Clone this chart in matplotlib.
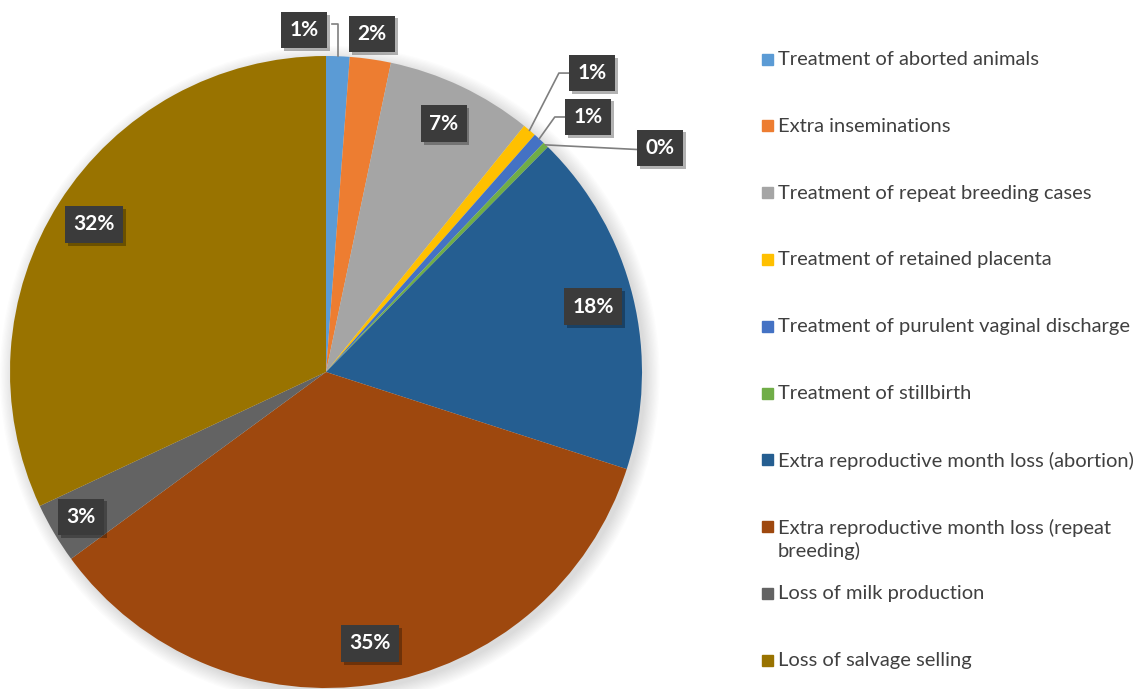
import numpy as np
from matplotlib import pyplot as plt
from matplotlib import patches
from matplotlib import patheffects as pe

# data
categories = [
    'Treatment of aborted animals',
    'Extra inseminations',
    'Treatment of repeat breeding cases',
    'Treatment of retained placenta',
    'Treatment of purulent vaginal discharge',
    'Treatment of stillbirth',
    'Extra reproductive month loss (abortion)',
    'Extra reproductive month loss (repeat\nbreeding)',
    'Loss of milk production',
    'Loss of salvage selling',
]
values = [1.2, 2.1, 7.5, 0.7, 0.6, 0.3, 17.6, 35.0, 3.1, 32.0]
labels = ['1%', '2%', '7%', '1%', '1%', '0%', '18%', '35%', '3%', '32%']
colors = ['#5B9BD5', '#ED7D31', '#A5A5A5', '#FFC000', '#4472C4',
          '#70AD47', '#255E91', '#9E480E', '#636363', '#997300']

# small slices get their label outside, with a leader line
outside_pos = {0: (-0.07, 1.082), 1: (0.146, 1.070), 3: (0.842, 0.946),
               4: (0.829, 0.807), 5: (1.057, 0.709)}

plt.rcParams['font.family'] = ['Lato', 'DejaVu Sans']

W, H = 1143, 689
fig = plt.figure(figsize=(W / 100, H / 100), dpi=100)

# pie axes: centre at (326, 372) px, radius 316 px
R = 316
cx, cy = 326, H - 372
half = 1.2 * R
ax = fig.add_axes([(cx - half) / W, (cy - half) / H, 2 * half / W, 2 * half / H])

# soft shadow behind the pie
for k in range(12):
    ax.add_patch(patches.Circle((0.012, -0.012), 1.0 + 0.004 * k,
                                color='black', alpha=0.012, lw=0, zorder=0))

wedges, _ = ax.pie(values, colors=colors, startangle=90, counterclock=False,
                   radius=1.0, wedgeprops=dict(linewidth=0), center=(0, 0))
for w in wedges:
    w.set_zorder(2)
ax.set_xlim(-1.2, 1.2)
ax.set_ylim(-1.2, 1.2)
ax.set_aspect('equal')
ax.axis('off')

box = dict(boxstyle='square,pad=0.4', fc='#3b3b3b', ec='none')
shadow = [pe.SimplePatchShadow(offset=(2, -2), shadow_rgbFace='black', alpha=0.3),
          pe.Normal()]

for i, w in enumerate(wedges):
    mid = np.deg2rad((w.theta1 + w.theta2) / 2)
    if i in outside_pos:
        lx, ly = outside_pos[i]
    else:
        r = 0.9 if values[i] < 5 else 0.87
        lx, ly = r * np.cos(mid), r * np.sin(mid)
    t = ax.text(lx, ly, labels[i], ha='center', va='center', color='white',
                fontsize=15, fontweight='bold', bbox=box, zorder=5)
    t.get_bbox_patch().set_path_effects(shadow)
    if i in outside_pos:
        ax_, ay_ = np.cos(mid), np.sin(mid)
        if i == 0:
            xs = [lx + 0.09, ax_, ax_]
            ys = [ly + 0.02, ly + 0.02, ay_]
        elif i == 5:
            xs = [ax_, lx - 0.07]
            ys = [ay_, ly - 0.005]
        elif i == 1:
            continue
        else:
            xs = [ax_, lx - 0.105, lx - 0.07]
            ys = [ay_, ly, ly]
        ax.plot(xs, ys, color='#7f7f7f', lw=1.2, zorder=3)

# legend, drawn by hand to match spacing
y0 = 59
step = 66.8
for i, (name, c) in enumerate(zip(categories, colors)):
    y = H - (y0 + i * step)
    fig.patches.append(patches.Rectangle((762 / W, (y - 5.5) / H), 11 / W, 11 / H,
                                         transform=fig.transFigure, color=c,
                                         figure=fig))
    fig.text(778 / W, (y + 8) / H, name, ha='left', va='top', fontsize=14.5,
             color='#404040', linespacing=1.35)

fig.savefig('out.png', dpi=100)
